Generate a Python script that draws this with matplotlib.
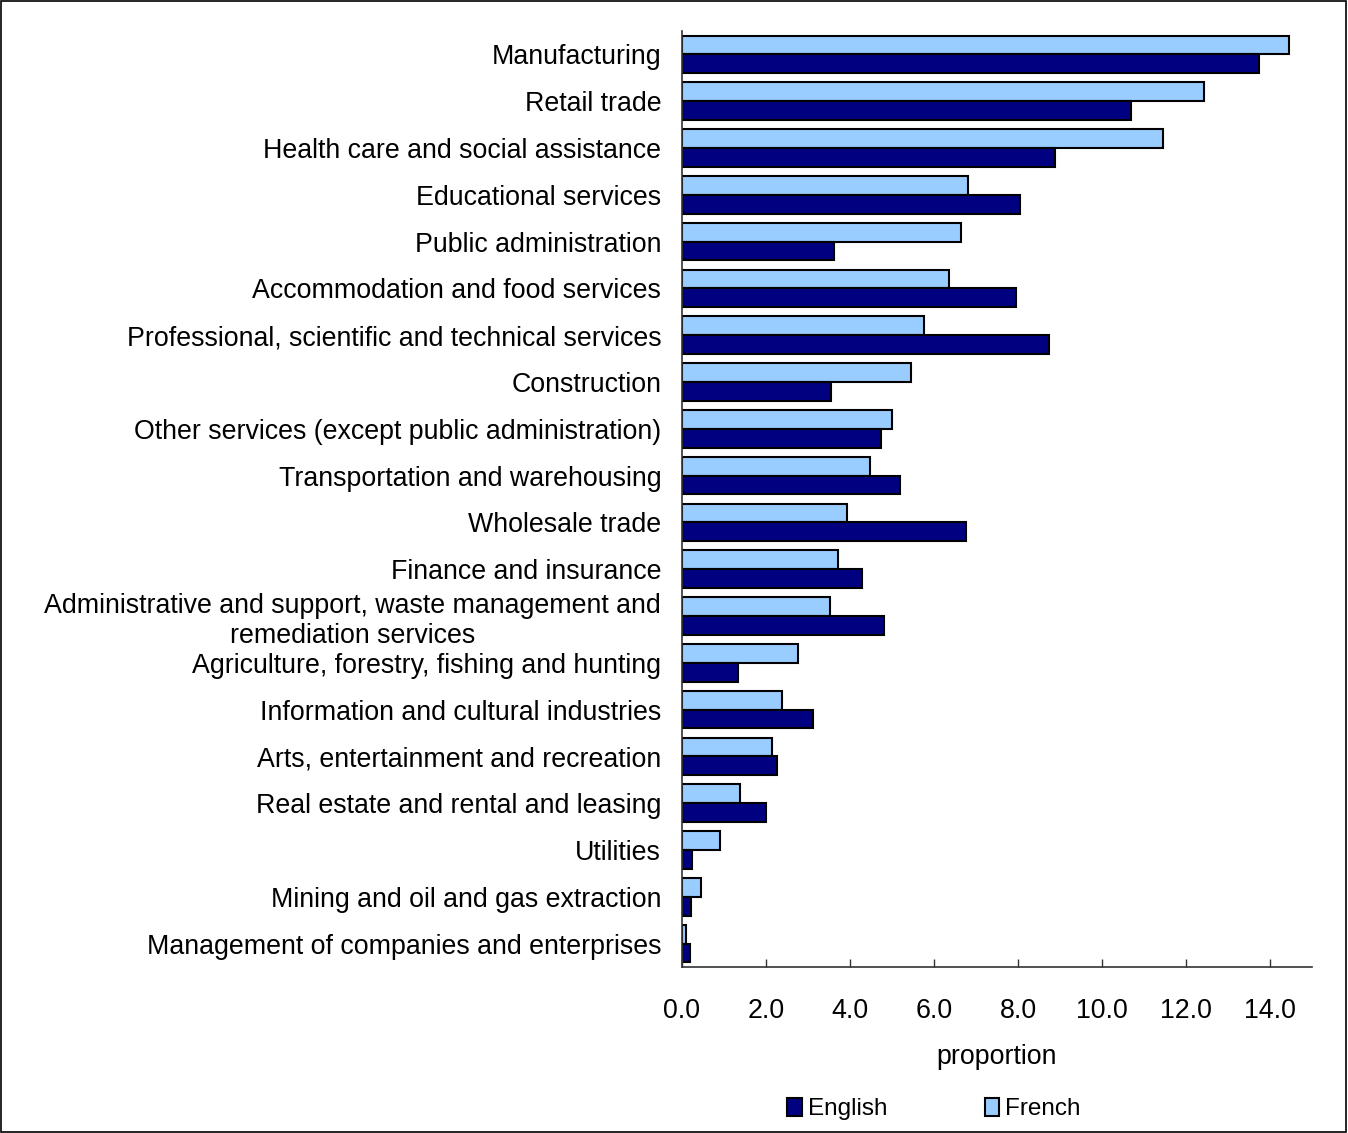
import numpy as np
import matplotlib.pyplot as plt
from matplotlib.patches import Rectangle

plt.rcParams['font.family'] = ['Liberation Sans', 'DejaVu Sans']

industries = [
    "Manufacturing",
    "Retail trade",
    "Health care and social assistance",
    "Educational services",
    "Public administration",
    "Accommodation and food services",
    "Professional, scientific and technical services",
    "Construction",
    "Other services (except public administration)",
    "Transportation and warehousing",
    "Wholesale trade",
    "Finance and insurance",
    "Administrative and support, waste management and\nremediation services",
    "Agriculture, forestry, fishing and hunting",
    "Information and cultural industries",
    "Arts, entertainment and recreation",
    "Real estate and rental and leasing",
    "Utilities",
    "Mining and oil and gas extraction",
    "Management of companies and enterprises",
]
english = [13.74, 10.69, 8.87, 8.05, 3.63, 7.95, 8.74, 3.54, 4.73, 5.18,
           6.76, 4.29, 4.82, 1.33, 3.12, 2.27, 2.00, 0.24, 0.22, 0.19]
french = [14.46, 12.42, 11.45, 6.82, 6.65, 6.36, 5.76, 5.46, 5.01, 4.47,
          3.93, 3.71, 3.53, 2.75, 2.39, 2.14, 1.37, 0.90, 0.46, 0.09]
xticks = [0, 2, 4, 6, 8, 10, 12, 14]

fig = plt.figure(figsize=(13.48, 11.33), dpi=100)
ax = fig.add_axes([682/1348, 1-967/1133, 630/1348, 936/1133])

y = np.arange(len(industries))
h = 0.4
ax.barh(y - h/2, french, height=h, color='#99CCFF', edgecolor='black', linewidth=1.5, label='French')
ax.barh(y + h/2, english, height=h, color='#000080', edgecolor='black', linewidth=1.5, label='English')

ax.set_ylim(len(industries) - 0.5, -0.5)
ax.set_xlim(0, 15)
ax.set_yticks(y)
ax.set_yticklabels(industries, fontsize=19.3)
for lab in ax.get_yticklabels():
    lab.set_multialignment('center')
ax.tick_params(axis='y', length=0, pad=15)
ax.set_xticks(xticks)
ax.set_xticklabels([f"{v:.1f}" for v in xticks], fontsize=19.3)
ax.tick_params(axis='x', direction='in', length=6, width=1, color='#333333', pad=22)
ax.set_xlabel("proportion", fontsize=19.3, labelpad=15)

for s in ['top', 'right']:
    ax.spines[s].set_visible(False)
for s in ['left', 'bottom']:
    ax.spines[s].set_color('#333333')
    ax.spines[s].set_linewidth(1.2)

handles, labels = ax.get_legend_handles_labels()
fig.legend(handles[::-1], labels[::-1], loc='center', bbox_to_anchor=(934/1348, 1-1109/1133),
           ncol=2, frameon=False, fontsize=17.5, handlelength=0.6, handleheight=0.75,
           handletextpad=0.25, columnspacing=4.0)

fig.patches.append(Rectangle((0.0008, 0.001), 0.998, 0.998, transform=fig.transFigure,
                             fill=False, edgecolor='black', linewidth=1.2))

fig.savefig("out.png", dpi=100)
